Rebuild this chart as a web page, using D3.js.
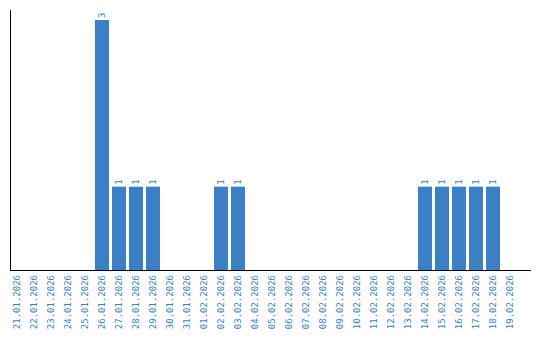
<!DOCTYPE html>
<html><head><meta charset="utf-8">
<script src="https://cdn.jsdelivr.net/npm/d3@7"></script>
<style>body{margin:0;background:#fff}svg{display:block}</style>
</head><body>
<svg id="c" width="540" height="340"></svg>
<script>
const categories = ["21.01.2026","22.01.2026","23.01.2026","24.01.2026","25.01.2026","26.01.2026","27.01.2026","28.01.2026","29.01.2026","30.01.2026","31.01.2026","01.02.2026","02.02.2026","03.02.2026","04.02.2026","05.02.2026","06.02.2026","07.02.2026","08.02.2026","09.02.2026","10.02.2026","11.02.2026","12.02.2026","13.02.2026","14.02.2026","15.02.2026","16.02.2026","17.02.2026","18.02.2026","19.02.2026"];
const values = [0,0,0,0,0,3,1,1,1,0,0,0,1,1,0,0,0,0,0,0,0,0,0,0,1,1,1,1,1,0];

const svg = d3.select("#c");
const color = "#3b7fc4";
const x = d3.scaleBand().domain(categories).range([10, 517]).paddingInner(3/17).paddingOuter(0);
const y = d3.scaleLinear().domain([0,3]).range([270,20]);

const data = categories.map((c,i)=>({c, v: values[i]}));

svg.selectAll("rect.bar").data(data.filter(d=>d.v>0)).join("rect")
  .attr("class","bar")
  .attr("x", d=>x(d.c)).attr("width", x.bandwidth())
  .attr("y", d=>y(d.v)).attr("height", d=>y(0)-y(d.v))
  .attr("fill", color);

svg.selectAll("text.val").data(data.filter(d=>d.v>0)).join("text")
  .attr("class","val")
  .attr("transform", d=>`translate(${x(d.c)+x.bandwidth()/2+3},${y(d.v)-2}) rotate(-90)`)
  .attr("font-family","DejaVu Sans Mono, monospace").attr("font-size",9)
  .attr("fill", color)
  .text(d=>d.v);

svg.append("line").attr("x1",10.5).attr("x2",10.5).attr("y1",10).attr("y2",270).attr("stroke","#000");
svg.append("line").attr("x1",10).attr("x2",531).attr("y1",270.5).attr("y2",270.5).attr("stroke","#000");

const xAxis = d3.axisBottom(x).tickSize(0).tickPadding(0);
const g = svg.append("g").attr("transform","translate(0,270)").call(xAxis);
g.select(".domain").remove();
g.selectAll("text")
  .attr("font-family","DejaVu Sans Mono, monospace").attr("font-size",9)
  .attr("fill", color)
  .attr("text-anchor","end")
  .attr("dy",null)
  .attr("transform","translate(3,5) rotate(-90)")
  .attr("x",0).attr("y",0);
</script>
</body></html>
